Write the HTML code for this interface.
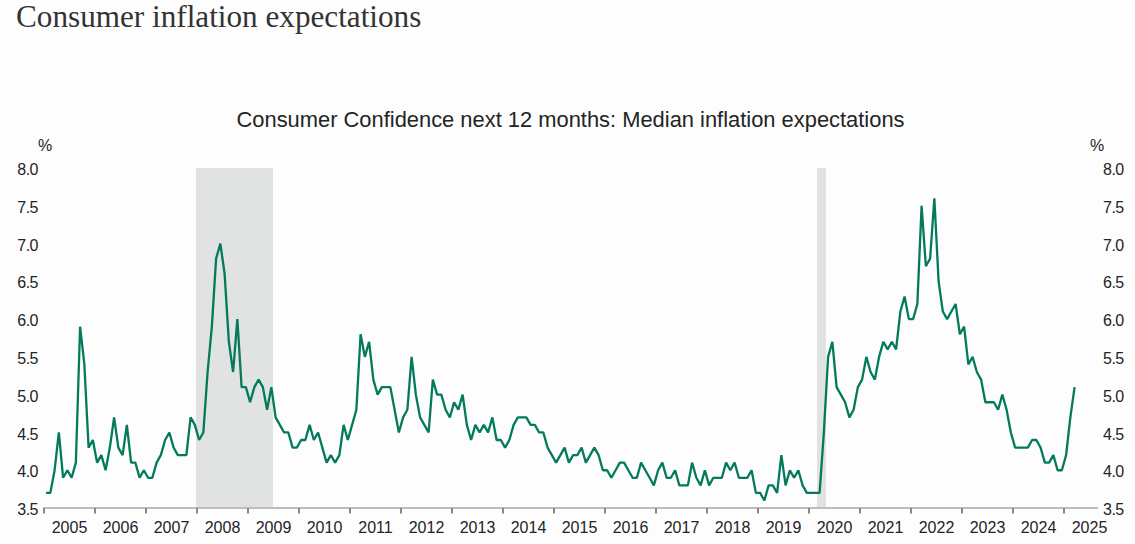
<!DOCTYPE html>
<html><head><meta charset="utf-8">
<style>
html,body{margin:0;padding:0;background:#fdfdfd;}
body{width:1135px;height:544px;position:relative;overflow:hidden;}
.t{position:absolute;left:16px;top:-1.2px;font-family:"Liberation Serif",serif;font-size:31.2px;color:#333;white-space:nowrap;line-height:36px;}
.ct{position:absolute;left:0;width:1141px;top:106.7px;text-align:center;font-family:"Liberation Sans",sans-serif;font-size:21.9px;color:#242424;white-space:nowrap;line-height:26px;}
.s{font-family:"Liberation Sans",sans-serif;color:#242424;position:absolute;white-space:nowrap;}
.yl{position:absolute;font-family:"Liberation Sans",sans-serif;font-size:16px;letter-spacing:-0.5px;line-height:20px;color:#242424;width:40px;}
.yl.l{left:-2px;text-align:right;}
.yl.r{left:1103px;text-align:left;}
.xl{position:absolute;top:518px;width:60px;text-align:center;font-family:"Liberation Sans",sans-serif;font-size:16px;line-height:20px;color:#242424;}
.pc{position:absolute;top:136px;font-family:"Liberation Sans",sans-serif;font-size:16px;line-height:20px;color:#242424;}
svg{position:absolute;left:0;top:0;}
</style></head><body>
<div class="t">Consumer inflation expectations</div>
<div class="ct">Consumer Confidence next 12 months: Median inflation expectations</div>
<svg width="1135" height="544" viewBox="0 0 1135 544">
<rect x="196" y="168" width="77" height="340" fill="#e1e3e2"/>
<rect x="817" y="168" width="9" height="340" fill="#e1e3e2"/>
<line x1="43" y1="508" x2="1098" y2="508" stroke="#bdbdbd" stroke-width="2"/>
<g stroke="#878787" stroke-width="2" fill="none"><line x1="44" y1="508" x2="44" y2="513.6"/><line x1="95" y1="508" x2="95" y2="513.6"/><line x1="146" y1="508" x2="146" y2="513.6"/><line x1="197" y1="508" x2="197" y2="513.6"/><line x1="248" y1="508" x2="248" y2="513.6"/><line x1="299" y1="508" x2="299" y2="513.6"/><line x1="350" y1="508" x2="350" y2="513.6"/><line x1="401" y1="508" x2="401" y2="513.6"/><line x1="452" y1="508" x2="452" y2="513.6"/><line x1="503" y1="508" x2="503" y2="513.6"/><line x1="554" y1="508" x2="554" y2="513.6"/><line x1="605" y1="508" x2="605" y2="513.6"/><line x1="656" y1="508" x2="656" y2="513.6"/><line x1="707" y1="508" x2="707" y2="513.6"/><line x1="758" y1="508" x2="758" y2="513.6"/><line x1="809" y1="508" x2="809" y2="513.6"/><line x1="860" y1="508" x2="860" y2="513.6"/><line x1="911" y1="508" x2="911" y2="513.6"/><line x1="962" y1="508" x2="962" y2="513.6"/><line x1="1013" y1="508" x2="1013" y2="513.6"/><line x1="1064" y1="508" x2="1064" y2="513.6"/></g>
<polyline fill="none" stroke="#037a5c" stroke-width="2.3" stroke-linejoin="bevel" points="46.10,492.91 50.35,492.91 54.60,470.24 58.85,432.46 63.10,477.80 67.35,470.24 71.60,477.80 75.85,462.68 80.10,326.68 84.35,364.46 88.60,447.57 92.85,440.02 97.10,462.68 101.35,455.13 105.60,470.24 109.85,447.57 114.10,417.35 118.35,447.57 122.60,455.13 126.85,424.90 131.10,462.68 135.35,462.68 139.60,477.80 143.85,470.24 148.10,477.80 152.35,477.80 156.60,462.68 160.85,455.13 165.10,440.02 169.35,432.46 173.60,447.57 177.85,455.13 182.10,455.13 186.35,455.13 190.60,417.35 194.85,424.90 199.10,440.02 203.35,432.46 207.60,372.01 211.85,326.68 216.10,258.67 220.35,243.56 224.60,273.78 228.85,341.79 233.10,372.01 237.35,319.12 241.60,387.12 245.85,387.12 250.10,402.24 254.35,387.12 258.60,379.57 262.85,387.12 267.10,409.79 271.35,387.12 275.60,417.35 279.85,424.90 284.10,432.46 288.35,432.46 292.60,447.57 296.85,447.57 301.10,440.02 305.35,440.02 309.60,424.90 313.85,440.02 318.10,432.46 322.35,447.57 326.60,462.68 330.85,455.13 335.10,462.68 339.35,455.13 343.60,424.90 347.85,440.02 352.10,424.90 356.35,409.79 360.60,334.23 364.85,356.90 369.10,341.79 373.35,379.57 377.60,394.68 381.85,387.12 386.10,387.12 390.35,387.12 394.60,409.79 398.85,432.46 403.10,417.35 407.35,409.79 411.60,356.90 415.85,394.68 420.10,417.35 424.35,424.90 428.60,432.46 432.85,379.57 437.10,394.68 441.35,394.68 445.60,409.79 449.85,417.35 454.10,402.24 458.35,409.79 462.60,394.68 466.85,424.90 471.10,440.02 475.35,424.90 479.60,432.46 483.85,424.90 488.10,432.46 492.35,417.35 496.60,440.02 500.85,440.02 505.10,447.57 509.35,440.02 513.60,424.90 517.85,417.35 522.10,417.35 526.35,417.35 530.60,424.90 534.85,424.90 539.10,432.46 543.35,432.46 547.60,447.57 551.85,455.13 556.10,462.68 560.35,455.13 564.60,447.57 568.85,462.68 573.10,455.13 577.35,455.13 581.60,447.57 585.85,462.68 590.10,455.13 594.35,447.57 598.60,455.13 602.85,470.24 607.10,470.24 611.35,477.80 615.60,470.24 619.85,462.68 624.10,462.68 628.35,470.24 632.60,477.80 636.85,477.80 641.10,462.68 645.35,470.24 649.60,477.80 653.85,485.35 658.10,470.24 662.35,462.68 666.60,477.80 670.85,477.80 675.10,470.24 679.35,485.35 683.60,485.35 687.85,485.35 692.10,462.68 696.35,477.80 700.60,485.35 704.85,470.24 709.10,485.35 713.35,477.80 717.60,477.80 721.85,477.80 726.10,462.68 730.35,470.24 734.60,462.68 738.85,477.80 743.10,477.80 747.35,477.80 751.60,470.24 755.85,492.91 760.10,492.91 764.35,500.46 768.60,485.35 772.85,485.35 777.10,492.91 781.35,455.13 785.60,485.35 789.85,470.24 794.10,477.80 798.35,470.24 802.60,485.35 806.85,492.91 811.10,492.91 815.35,492.91 819.60,492.91 823.85,432.46 828.10,356.90 832.35,341.79 836.60,387.12 840.85,394.68 845.10,402.24 849.35,417.35 853.60,409.79 857.85,387.12 862.10,379.57 866.35,356.90 870.60,372.01 874.85,379.57 879.10,356.90 883.35,341.79 887.60,349.34 891.85,341.79 896.10,349.34 900.35,311.56 904.60,296.45 908.85,319.12 913.10,319.12 917.35,304.01 921.60,205.78 925.85,266.23 930.10,258.67 934.35,198.22 938.60,281.34 942.85,311.56 947.10,319.12 951.35,311.56 955.60,304.01 959.85,334.23 964.10,326.68 968.35,364.46 972.60,356.90 976.85,372.01 981.10,379.57 985.35,402.24 989.60,402.24 993.85,402.24 998.10,409.79 1002.35,394.68 1006.60,409.79 1010.85,432.46 1015.10,447.57 1019.35,447.57 1023.60,447.57 1027.85,447.57 1032.10,440.02 1036.35,440.02 1040.60,447.57 1044.85,462.68 1049.10,462.68 1053.35,455.13 1057.60,470.24 1061.85,470.24 1066.10,455.13 1070.35,417.35 1074.60,387.12"/>
</svg>
<div class="pc" style="left:38px">%</div>
<div class="pc" style="left:1090px">%</div>
<div class="yl l" style="top:160.0px">8.0</div><div class="yl r" style="top:160.0px">8.0</div><div class="yl l" style="top:197.8px">7.5</div><div class="yl r" style="top:197.8px">7.5</div><div class="yl l" style="top:235.6px">7.0</div><div class="yl r" style="top:235.6px">7.0</div><div class="yl l" style="top:273.3px">6.5</div><div class="yl r" style="top:273.3px">6.5</div><div class="yl l" style="top:311.1px">6.0</div><div class="yl r" style="top:311.1px">6.0</div><div class="yl l" style="top:348.9px">5.5</div><div class="yl r" style="top:348.9px">5.5</div><div class="yl l" style="top:386.7px">5.0</div><div class="yl r" style="top:386.7px">5.0</div><div class="yl l" style="top:424.5px">4.5</div><div class="yl r" style="top:424.5px">4.5</div><div class="yl l" style="top:462.2px">4.0</div><div class="yl r" style="top:462.2px">4.0</div><div class="yl l" style="top:500.0px">3.5</div><div class="yl r" style="top:500.0px">3.5</div>
<div class="xl" style="left:39.5px">2005</div><div class="xl" style="left:90.5px">2006</div><div class="xl" style="left:141.5px">2007</div><div class="xl" style="left:192.5px">2008</div><div class="xl" style="left:243.5px">2009</div><div class="xl" style="left:294.5px">2010</div><div class="xl" style="left:345.5px">2011</div><div class="xl" style="left:396.5px">2012</div><div class="xl" style="left:447.5px">2013</div><div class="xl" style="left:498.5px">2014</div><div class="xl" style="left:549.5px">2015</div><div class="xl" style="left:600.5px">2016</div><div class="xl" style="left:651.5px">2017</div><div class="xl" style="left:702.5px">2018</div><div class="xl" style="left:753.5px">2019</div><div class="xl" style="left:804.5px">2020</div><div class="xl" style="left:855.5px">2021</div><div class="xl" style="left:906.5px">2022</div><div class="xl" style="left:957.5px">2023</div><div class="xl" style="left:1008.5px">2024</div><div class="xl" style="left:1059.5px">2025</div>
</body></html>
